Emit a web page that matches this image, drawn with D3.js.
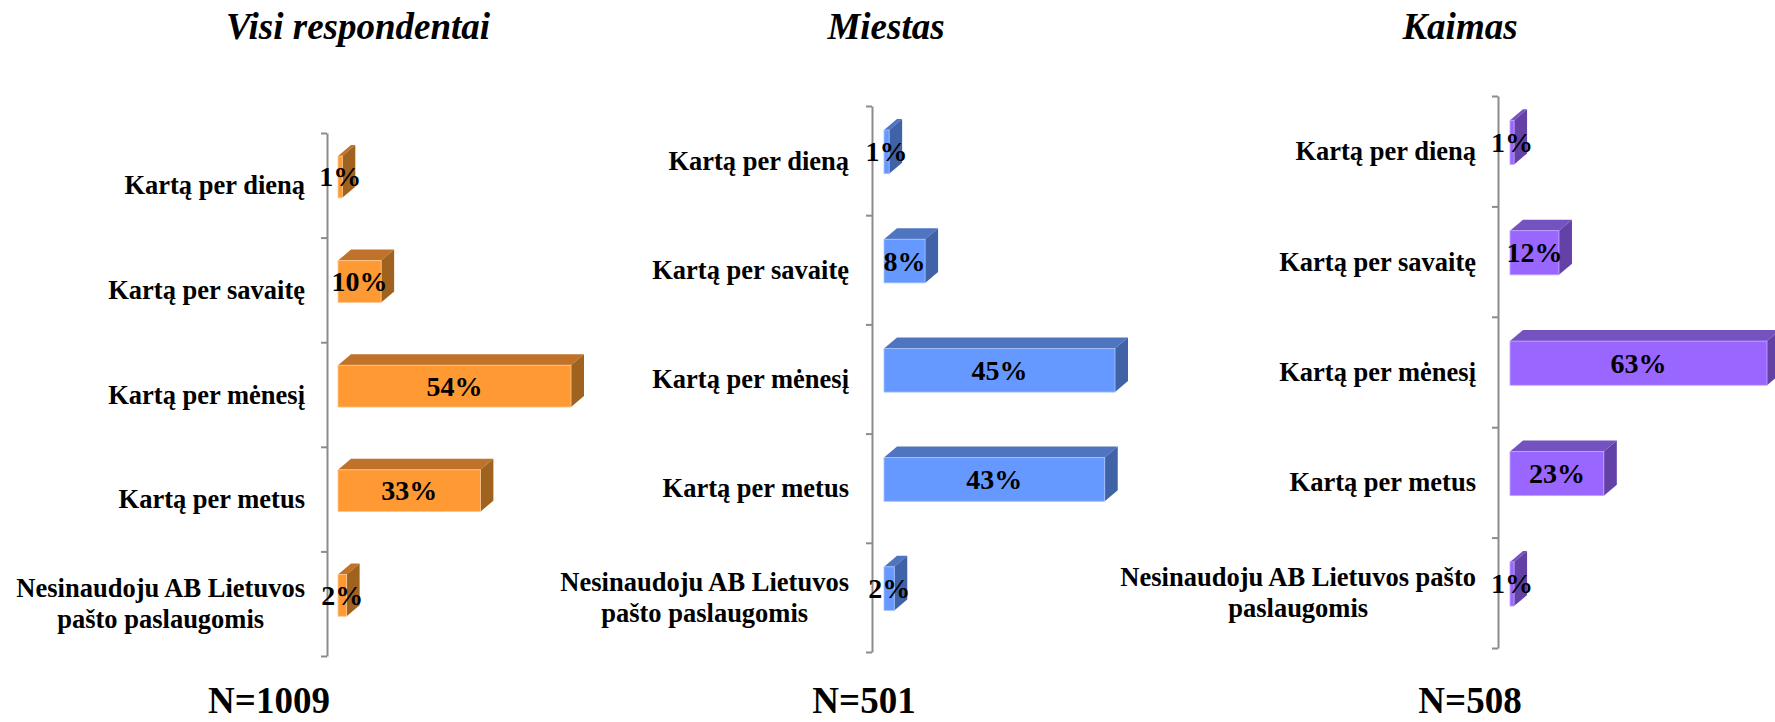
<!DOCTYPE html>
<html>
<head>
<meta charset="utf-8">
<script src="https://cdn.jsdelivr.net/npm/d3@7"></script>
<style>
  html, body { margin: 0; padding: 0; background: #fff; }
  svg { display: block; }
  text { font-family: "Liberation Serif", "Times New Roman", serif; font-weight: bold; fill: #000; }
</style>
</head>
<body>
<svg id="chart" width="1775" height="722"></svg>
<script>
// ---- Data ----
const categories = [
  "Kartą per dieną",
  "Kartą per savaitę",
  "Kartą per mėnesį",
  "Kartą per metus",
  "Nesinaudoju AB Lietuvos pašto paslaugomis"
];
const panelTitles = ["Visi respondentai", "Miestas", "Kaimas"];
const sampleLabels = ["N=1009", "N=501", "N=508"];
const valuesAll = [1, 10, 54, 33, 2];
const valuesCity = [1, 8, 45, 43, 2];
const valuesRural = [1, 12, 63, 23, 1];

// ---- Layout / style ----
const panels = [
  { values: valuesAll, axisX: 327, yTop: 133, yBot: 656, barX0: 338, barMax: 233, labelRight: 305, titleX: 358, nX: 269, wrap: 300,
    front: "#FF9933", top: "#C0722A", side: "#A0621F", edge: "#FFC890" },
  { values: valuesCity, axisX: 872, yTop: 106, yBot: 652, barX0: 884, barMax: 231, labelRight: 849, titleX: 886, nX: 864, wrap: 300,
    front: "#6699FF", top: "#4F74C0", side: "#3F63A6", edge: "#A8C4FF" },
  { values: valuesRural, axisX: 1498, yTop: 96, yBot: 648, barX0: 1510, barMax: 257, labelRight: 1476, titleX: 1460, nX: 1470, wrap: 370,
    front: "#9966FF", top: "#7452C0", side: "#6341A6", edge: "#C4A8FF" }
];
const depthX = 13, depthY = 11;

const svg = d3.select("#chart");

panels.forEach((p, pi) => {
  const g = svg.append("g");
  const y = d3.scaleBand().domain(categories).range([p.yTop, p.yBot]).paddingInner(0).paddingOuter(0);
  const x = d3.scaleLinear().domain([0, d3.max(p.values)]).range([0, p.barMax]);
  const tickScale = d3.scaleLinear().domain([0, categories.length]).range([p.yTop, p.yBot]);

  // axis
  const axis = d3.axisLeft(tickScale).tickValues(d3.range(categories.length + 1)).tickFormat("").tickSize(6).tickSizeOuter(0);
  const ag = g.append("g").attr("transform", `translate(${p.axisX},0)`).call(axis);
  ag.select(".domain").attr("stroke", "#8c8c8c").attr("stroke-width", 2);
  ag.selectAll(".tick line").attr("stroke", "#8c8c8c").attr("stroke-width", 2);

  // category labels
  categories.forEach((c, i) => {
    const cy = y(c) + y.bandwidth() / 2;
    const t = g.append("text")
      .attr("x", p.labelRight).attr("y", cy)
      .attr("text-anchor", "end")
      .style("font-size", "26.5px");
    const words = c.split(" ");
    const lines = [];
    let cur = [];
    const probe = t.append("tspan");
    words.forEach(w => {
      const test = cur.concat([w]).join(" ");
      probe.text(test);
      if (probe.node().getComputedTextLength() > p.wrap && cur.length) {
        lines.push(cur.join(" "));
        cur = [w];
      } else {
        cur.push(w);
      }
    });
    lines.push(cur.join(" "));
    probe.remove();
    const lh = 31;
    const startOffset = -(lines.length - 1) * lh / 2 + 9;
    lines.forEach((ln, li) => {
      t.append("tspan")
        .attr("x", p.labelRight)
        .attr("y", cy + startOffset + li * lh)
        .attr("text-anchor", "end")
        .text(ln);
    });
    if (lines.length > 1) {
      const tsp = t.selectAll("tspan").nodes();
      const widths = tsp.map(n => n.getComputedTextLength());
      const maxW = d3.max(widths);
      tsp.forEach(n => {
        d3.select(n).attr("text-anchor", "middle").attr("x", p.labelRight - maxW / 2);
      });
    }
  });

  // bars
  p.values.forEach((v, i) => {
    const c = categories[i];
    const bw = y.bandwidth();
    const cy = y(c) + bw / 2;
    const h = bw * 0.40;
    const yF1 = cy + bw * 0.12;
    const yF0 = yF1 - h;
    const x0 = p.barX0;
    const x1 = p.barX0 + x(v);
    const bg = g.append("g");
    bg.append("path")
      .attr("d", `M${x0},${yF0}L${x0 + depthX},${yF0 - depthY}L${x1 + depthX},${yF0 - depthY}L${x1},${yF0}Z`)
      .attr("fill", p.top);
    bg.append("path")
      .attr("d", `M${x1},${yF0}L${x1 + depthX},${yF0 - depthY}L${x1 + depthX},${yF1 - depthY}L${x1},${yF1}Z`)
      .attr("fill", p.side);
    bg.append("rect")
      .attr("x", x0).attr("y", yF0).attr("width", x1 - x0).attr("height", h)
      .attr("fill", p.front).attr("stroke", p.edge).attr("stroke-width", 0.8);
    g.append("text")
      .attr("x", (x0 + x1) / 2).attr("y", (yF0 + yF1) / 2 + 9.5)
      .attr("text-anchor", "middle")
      .style("font-size", "28px")
      .text(v + "%");
  });

  // title
  svg.append("text")
    .attr("x", p.titleX).attr("y", 39)
    .attr("text-anchor", "middle")
    .style("font-size", "37px").style("font-style", "italic")
    .text(panelTitles[pi]);

  // sample size
  svg.append("text")
    .attr("x", p.nX).attr("y", 713)
    .attr("text-anchor", "middle")
    .style("font-size", "37px")
    .text(sampleLabels[pi]);
});
</script>
</body>
</html>
